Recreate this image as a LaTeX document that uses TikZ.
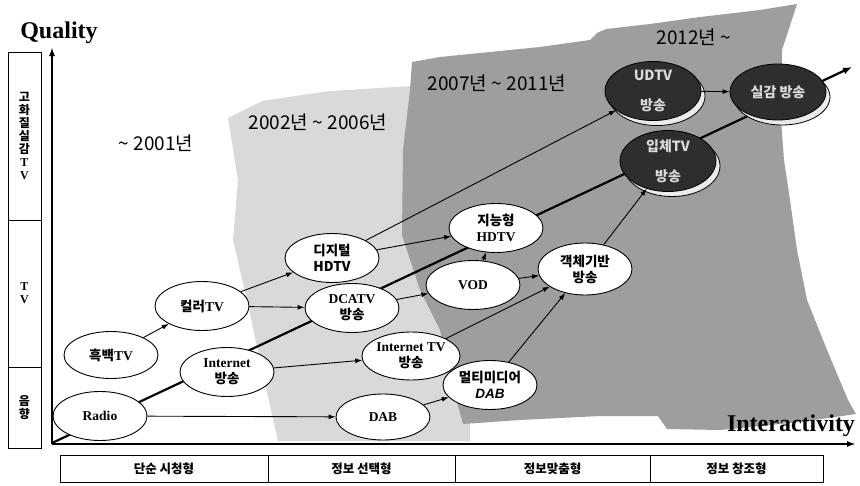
\documentclass[tikz,border=0pt]{standalone}
\usepackage{fontspec}
\setmainfont{Liberation Serif}
\newfontfamily\kr{Noto Sans CJK KR}
\newfontfamily\lsans{Liberation Sans}
\usetikzlibrary{shapes.geometric,arrows.meta,shadows}
\newcommand\kor[1]{{\kr #1}}
\tikzset{
  ell/.style={ellipse, draw=black, line width=0.9pt, fill=white, minimum width=94pt, minimum height=49pt, inner sep=0pt, align=center, font=\bfseries\fontsize{13.5}{16}\selectfont},
  disc/.style={ellipse, draw=black, line width=0.8pt, fill=black!82, minimum width=96pt, minimum height=56pt, inner sep=0pt, align=center, text=white!85!black, font=\kr\bfseries\fontsize{14}{30}\selectfont,
    drop shadow={shadow xshift=4pt, shadow yshift=-5pt, fill=black!8, draw=black, line width=0.8pt, opacity=1}},
  conn/.style={line width=0.9pt, -{Latex[length=7pt,width=5pt]}},
  mainline/.style={line width=2.2pt, -{Latex[length=9pt,width=7pt]}},
  axisline/.style={line width=2pt, -{Latex[length=9pt,width=6pt]}},
  cell/.style={draw=black, line width=1pt, inner sep=0pt, align=center, font=\kr\bfseries\fontsize{12.5}{13}\selectfont},
  vcell/.style={draw=black, line width=1pt, inner sep=0pt, align=center, minimum width=33pt, font=\kr\bfseries\fontsize{12}{13}\selectfont},
  yr/.style={font=\kr\fontsize{19}{20}\selectfont, inner sep=0pt},
  big/.style={font=\bfseries\fontsize{24}{24}\selectfont, inner sep=0pt},
  regA/.style={fill=black!15},
  regB/.style={fill=black!38},
}
\begin{document}
\begin{tikzpicture}[x=1pt,y=-1pt]
\useasboundingbox (0,0) rectangle (860,485);
\fill[white] (0,0) rectangle (860,485);
% period regions
\fill[regA] (228,118) -- (262,101) -- (330,91) -- (412,86) -- (470,86) -- (470,441) -- (278,441) -- (262,370) -- (247,300) -- (233,240) -- (238,180) -- cycle;
\fill[regB] (412,62) -- (440,57) -- (480,53) -- (540,47) -- (590,40) -- (597,33) -- (606,29) -- (650,24) -- (700,17) -- (760,10) -- (797,4) -- (782,50) -- (781,120) -- (784,160) -- (790,200) -- (797,250) -- (807,300) -- (827,350) -- (848,400) -- (856,414) -- (800,422) -- (720,430) -- (667,429) -- (658,416) -- (600,416) -- (520,420) -- (463,424) -- (455,395) -- (440,330) -- (420,290) -- (402,235) -- (403,150) -- (410,90) -- cycle;
% year labels
\node[yr] (y1) at (156,143) {\textasciitilde{} 2001년};
\node[yr] (y2) at (318,122) {2002년 \textasciitilde{} 2006년};
\node[yr] (y3) at (497,83) {2007년 \textasciitilde{} 2011년};
\node[yr] (y4) at (694,37) {2012년 \textasciitilde};
% axes
\coordinate (ax0) at (52,444);
\coordinate (yend) at (52,47);
\coordinate (xend) at (856,444);
\draw[axisline] (ax0) -- (yend);
\draw[axisline] (ax0) -- (xend);
\node[big] (q) at (59,33) {Quality};
\node[big] (ia) at (791,426) {Interactivity};
% main trend line
\coordinate (O) at (52,443);
\coordinate (E) at (852,67);
\draw[mainline] (O) -- (E);
% left column
\node[vcell, minimum height=168pt] (s1) at (24.5,136) {고\\화\\질\\실\\감\\{\rmfamily T}\\{\rmfamily V}};
\node[vcell, minimum height=147pt] (s2) at (24.5,293.5) {{\rmfamily T}\\{\rmfamily V}};
\node[vcell, minimum height=81pt] (s3) at (24.5,407.5) {음\\향};
% bottom boxes
\node[cell, minimum width=208pt, minimum height=27pt] (b1) at (164,468.5) {단순 시청형};
\node[cell, minimum width=187pt, minimum height=27pt] (b2) at (361.5,468.5) {정보 선택형};
\node[cell, minimum width=195pt, minimum height=27pt] (b3) at (552.5,468.5) {정보맞춤형};
\node[cell, minimum width=173pt, minimum height=27pt] (b4) at (736.5,468.5) {정보 창조형};
% nodes
\node[ell] (radio) at (100,416) {Radio};
\node[ell, minimum height=47pt] (bw) at (111,355) {\kor{흑백}TV};
\node[ell] (color) at (202,306) {\kor{컬러}TV};
\node[ell] (inet) at (227,372) {Internet\\\kor{방송}};
\node[ell] (dhd) at (332,258) {\kor{디지털}\\\kor{HDTV}};
\node[ell] (dcatv) at (352,308) {DCATV\\\kor{방송}};
\node[ell, minimum height=48pt] (itv) at (411,356) {Internet TV\\\kor{방송}};
\node[ell, minimum height=46pt] (dab) at (383,417) {DAB};
\node[ell] (jin) at (496,228) {\kor{지능형}\\HDTV};
\node[ell] (vod) at (473,285) {VOD};
\node[ell, minimum height=52pt] (obj) at (585,269) {\kor{객체기반}\\\kor{방송}};
\node[ell] (mm) at (490,385) {\kor{멀티미디어}\\{\lsans\bfseries\itshape DAB}};
\node[disc] (ud) at (653,91) {UDTV\\방송};
\node[disc] (ip) at (668,161) {입체TV\\방송};
\node[disc, font=\kr\bfseries\fontsize{14}{16}\selectfont] (sil) at (778,92) {실감 방송};
% connectors
\draw[conn] (bw) -- (color);
\draw[conn] (color) -- (dhd);
\draw[conn] (color) -- (dcatv);
\draw[conn] (inet) -- (itv);
\draw[conn] (radio) -- (dab);
\draw[conn] (dhd) -- (jin);
\draw[conn] (dhd) -- (ud);
\draw[conn] (dcatv) -- (vod);
\draw[conn] (vod) -- (jin);
\draw[conn] (vod) -- (obj);
\draw[conn] (itv) -- (obj);
\draw[conn] (mm) -- (obj);
\draw[conn] (dab) -- (mm);
\draw[conn] (obj) -- (ip);
\draw[conn] (ud) -- (sil);
\end{tikzpicture}
\end{document}
